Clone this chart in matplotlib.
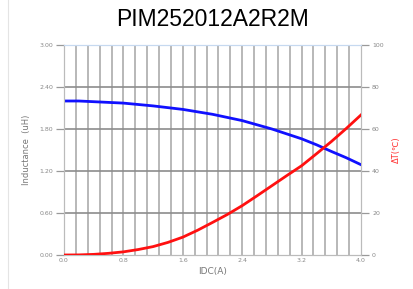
import matplotlib.pyplot as plt
import numpy as np

# 读取自图中的数据
idc = [0.0, 0.2, 0.4, 0.6, 0.8, 1.0, 1.2, 1.4, 1.6, 1.8, 2.0,
       2.2, 2.4, 2.6, 2.8, 3.0, 3.2, 3.4, 3.6, 3.8, 4.0]
inductance = [2.20, 2.20, 2.19, 2.18, 2.17, 2.15, 2.13, 2.105, 2.08, 2.045, 2.01,
              1.965, 1.92, 1.86, 1.80, 1.73, 1.66, 1.575, 1.48, 1.39, 1.29]
delta_t = [0.0, 0.05, 0.3, 0.8, 1.5, 2.6, 4.0, 6.0, 8.5, 11.8, 15.5,
           19.3, 23.5, 28.2, 33.0, 37.8, 42.5, 48.2, 54.0, 60.2, 66.7]

x_ticks = [0.0, 0.8, 1.6, 2.4, 3.2, 4.0]
y_ticks = [0.00, 0.60, 1.20, 1.80, 2.40, 3.00]
t_ticks = [0, 20, 40, 60, 80, 100]

fig = plt.figure(figsize=(4.14, 2.89), dpi=100)
ax = fig.add_axes([64 / 414, 34 / 289, 297 / 414, 210 / 289])
ax2 = ax.twinx()

ax.set_xlim(0, 4.0)
ax.set_ylim(0, 3.0)
ax2.set_ylim(0, 100)

# 竖向网格 0.16 间隔
for xv in np.arange(0.16, 4.0, 0.16):
    ax.axvline(xv, color='#b8b8b8', lw=1.4, zorder=1)
for yv in y_ticks[1:-1]:
    ax.axhline(yv, color='#8c8c8c', lw=1.2, zorder=2)

ax.plot(idc, inductance, color='#1010ff', lw=2.0, zorder=3)
ax2.plot(idc, delta_t, color='#ff1010', lw=2.0, zorder=3)

ax.set_xticks(x_ticks)
ax.set_xticklabels(['%.1f' % v for v in x_ticks])
ax.set_yticks(y_ticks)
ax.set_yticklabels(['%.2f' % v for v in y_ticks])
ax2.set_yticks(t_ticks)
ax2.set_yticklabels([str(v) for v in t_ticks])

for a in (ax, ax2):
    a.tick_params(labelsize=4.5, colors='#888888', length=6, width=0.9,
                  color='#999999', pad=2)
    for s in a.spines.values():
        s.set_color('#bbbbbb')
        s.set_linewidth(0.8)
    a.spines['top'].set_color('#c6d9f0')
ax.tick_params(axis='x', length=0)

ax.set_xlabel('IDC(A)', fontsize=6.5, color='#777777', labelpad=3)
ax.set_ylabel('Inductance  (uH)', fontsize=6, color='#777777', labelpad=6)
ax2.set_ylabel('ΔT(℃)', fontsize=6, color='#ff3030', labelpad=6,
               family=['DejaVu Sans', 'Noto Sans CJK SC'])

fig.text(212 / 414, 1 - 20 / 289, 'PIM252012A2R2M', ha='center', va='center',
         fontsize=16.5, family='Liberation Sans', color='black')

# 左侧细边框
fig.add_artist(plt.Line2D([8 / 414, 8 / 414], [0, 1], color='#e4e4e4', lw=0.8))

fig.savefig('out.png', dpi=100)
